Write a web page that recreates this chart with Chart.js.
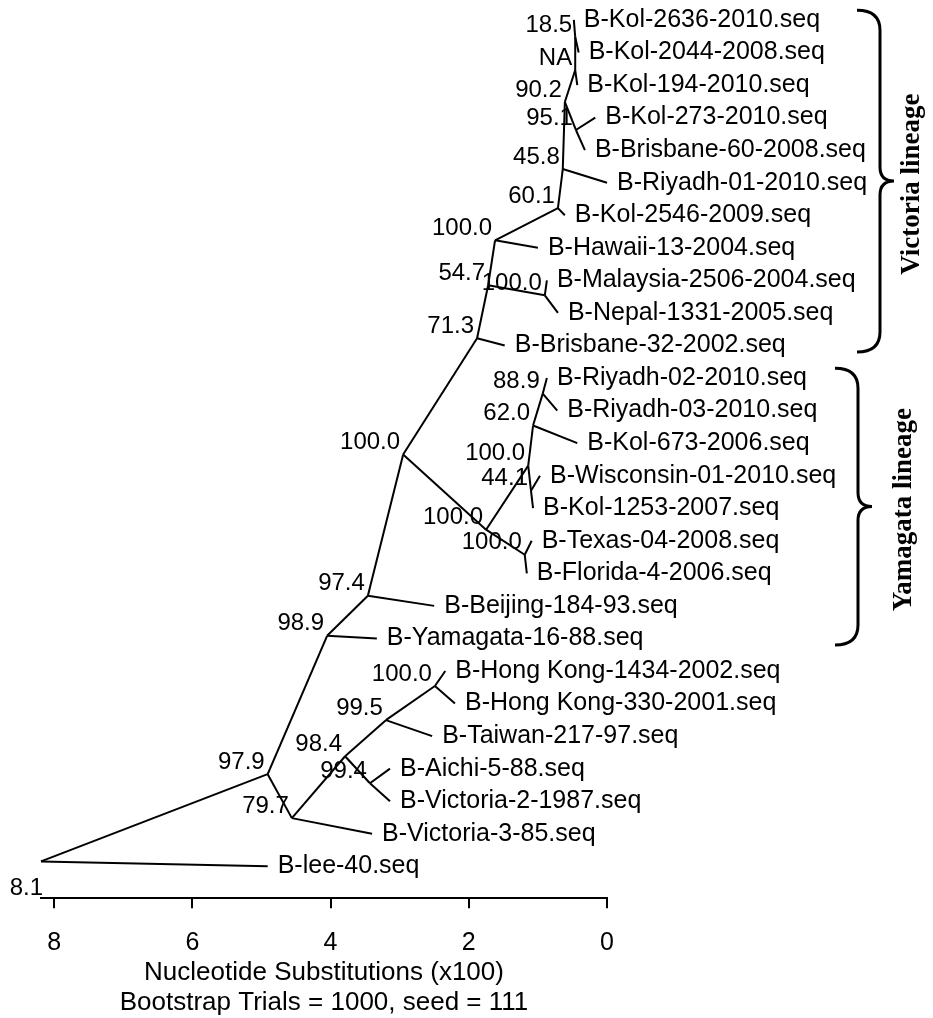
<!DOCTYPE html>
<html>
<head>
<meta charset="utf-8">
<script src="https://cdn.jsdelivr.net/npm/chart.js@4.4.0/dist/chart.umd.min.js"></script>
<style>
    body { margin: 0; background: #fff; }
    #wrap { width: 933px; height: 1018px; }
</style>
</head>
<body>
<div id="wrap"><canvas id="treeChart"></canvas></div>
<script>
// Tips, top to bottom (row = index)
const taxa = [
    'B-Kol-2636-2010.seq', 'B-Kol-2044-2008.seq', 'B-Kol-194-2010.seq', 'B-Kol-273-2010.seq',
    'B-Brisbane-60-2008.seq', 'B-Riyadh-01-2010.seq', 'B-Kol-2546-2009.seq', 'B-Hawaii-13-2004.seq',
    'B-Malaysia-2506-2004.seq', 'B-Nepal-1331-2005.seq', 'B-Brisbane-32-2002.seq', 'B-Riyadh-02-2010.seq',
    'B-Riyadh-03-2010.seq', 'B-Kol-673-2006.seq', 'B-Wisconsin-01-2010.seq', 'B-Kol-1253-2007.seq',
    'B-Texas-04-2008.seq', 'B-Florida-4-2006.seq', 'B-Beijing-184-93.seq', 'B-Yamagata-16-88.seq',
    'B-Hong Kong-1434-2002.seq', 'B-Hong Kong-330-2001.seq', 'B-Taiwan-217-97.seq', 'B-Aichi-5-88.seq',
    'B-Victoria-2-1987.seq', 'B-Victoria-3-85.seq', 'B-lee-40.seq'
];
const taxaDist = [0.48, 0.41, 0.43, 0.17, 0.32, 0.00, 0.61, 1.00, 0.87, 0.71, 1.48, 0.87, 0.72, 0.43,
    0.97, 1.07, 1.09, 1.16, 2.50, 3.33, 2.34, 2.20, 2.53, 3.14, 3.14, 3.40, 4.91];
const taxaParent = [13, 13, 12, 11, 11, 9, 8, 7, 14, 14, 5, 18, 18, 17, 19, 19, 20, 20, 3, 2, 24, 24, 23, 25, 25, 21, 0];

// Internal nodes (0 = root)
const nodeSupport = ['8.1', '97.9', '98.9', '97.4', '100.0', '71.3', '54.7', '100.0', '60.1', '45.8', '90.2', '95.1', 'NA',
    '18.5', '100.0', '100.0', '100.0', '62.0', '88.9', '44.1', '100.0', '79.7', '98.4', '99.5', '100.0', '99.4'];
const nodeDist = [8.19, 4.91, 4.05, 3.46, 2.95, 1.88, 1.72, 1.62, 0.71, 0.64, 0.61, 0.45, 0.46,
    0.46, 0.90, 1.75, 1.14, 1.07, 0.93, 1.10, 1.19, 4.56, 3.79, 3.20, 2.49, 3.43];
const nodeRow = [25.85, 23.17, 18.92, 17.69, 13.35, 9.78, 8.15, 6.77, 5.78, 4.58, 2.52, 3.38, 1.54,
    0.52, 8.46, 15.66, 13.69, 12.46, 11.48, 14.46, 16.43, 24.52, 22.62, 21.51, 20.46, 23.45];
const nodeParent = [-1, 0, 1, 2, 3, 4, 5, 6, 7, 8, 9, 10, 10, 12, 6, 4, 15, 16, 17, 16, 15, 1, 21, 22, 23, 22];

const xTicks = [0, 2, 4, 6, 8];

const lineages = ['Victoria lineage', 'Yamagata lineage'];
const lineageFirst = [0, 11];
const lineageLast = [10, 19];

// --- 1. Build one line dataset per branch ---
const branches = [];
nodeParent.forEach((p, i) => {
    if (p < 0) return;
    branches.push([{ x: nodeDist[p], y: nodeRow[p] }, { x: nodeDist[i], y: nodeRow[i] }]);
});
taxaParent.forEach((p, i) => {
    branches.push([{ x: nodeDist[p], y: nodeRow[p] }, { x: taxaDist[i], y: i }]);
});

const datasets = branches.map(b => ({
    data: b,
    showLine: true,
    borderColor: '#000',
    borderWidth: 2,
    pointRadius: 0,
    clip: false
}));

const FONT = '"Liberation Sans", Arial, sans-serif';

// --- 2. Text labels and lineage braces ---
const treeLabels = {
    id: 'treeLabels',
    afterDatasetsDraw(chart) {
        const { ctx, scales: { x, y } } = chart;
        ctx.save();
        ctx.fillStyle = '#000';
        ctx.textBaseline = 'middle';

        ctx.font = '25px ' + FONT;
        ctx.textAlign = 'left';
        taxa.forEach((name, i) => {
            ctx.fillText(name, x.getPixelForValue(taxaDist[i]) + 10, y.getPixelForValue(i));
        });

        ctx.font = '24px ' + FONT;
        ctx.textAlign = 'right';
        nodeSupport.forEach((s, i) => {
            const px = x.getPixelForValue(nodeDist[i]);
            const py = y.getPixelForValue(nodeRow[i]);
            if (i === 0) ctx.fillText(s, px + 2, py + 27);
            else ctx.fillText(s, px - 3, py - 12);
        });

        // braces
        const braceX = [[857, 880, 894], [835, 858, 872]];
        const textX = [912, 904];
        ctx.strokeStyle = '#000';
        ctx.lineWidth = 3;
        lineages.forEach((name, k) => {
            const top = y.getPixelForValue(lineageFirst[k] - 0.3);
            const bot = y.getPixelForValue(lineageLast[k] + 0.2);
            const mid = (top + bot) / 2;
            const [xl, xs, xt] = braceX[k];
            const r = 20;
            ctx.beginPath();
            ctx.moveTo(xl, top);
            ctx.quadraticCurveTo(xs, top, xs, top + r);
            ctx.lineTo(xs, mid - 14);
            ctx.quadraticCurveTo(xs, mid, xt, mid);
            ctx.quadraticCurveTo(xs, mid, xs, mid + 14);
            ctx.lineTo(xs, bot - r);
            ctx.quadraticCurveTo(xs, bot, xl, bot);
            ctx.stroke();

            ctx.save();
            ctx.translate(textX[k], mid + 3);
            ctx.rotate(-Math.PI / 2);
            ctx.textAlign = 'center';
            ctx.font = 'bold 27px "Liberation Serif", "Times New Roman", serif';
            ctx.fillText(name, 0, 0);
            ctx.restore();
        });
        ctx.restore();
    }
};

// --- 3. Chart ---
new Chart(document.getElementById('treeChart'), {
    type: 'scatter',
    data: { datasets },
    options: {
        responsive: true,
        maintainAspectRatio: false,
        animation: false,
        layout: { padding: { left: 41, right: 326, top: 4, bottom: 0 } },
        plugins: { legend: { display: false }, tooltip: { enabled: false } },
        scales: {
            x: {
                type: 'linear',
                reverse: true,
                min: 0,
                max: 8.19,
                afterBuildTicks: scale => { scale.ticks = xTicks.map(v => ({ value: v })); },
                grid: { drawOnChartArea: false, drawTicks: true, tickLength: 10, color: '#000', lineWidth: 2 },
                border: { display: true, color: '#000', width: 2 },
                ticks: { color: '#000', padding: 20, maxRotation: 0, font: { family: FONT, size: 25, lineHeight: 1.2 } },
                title: {
                    display: true,
                    text: ['Nucleotide Substitutions (x100)', 'Bootstrap Trials = 1000, seed = 111'],
                    color: '#000',
                    padding: { top: -20, bottom: 0 },
                    font: { family: FONT, size: 26, lineHeight: 1.15 }
                }
            },
            y: {
                display: false,
                reverse: true,
                min: -0.49,
                max: 26.98
            }
        }
    },
    plugins: [treeLabels]
});
</script>
</body>
</html>
